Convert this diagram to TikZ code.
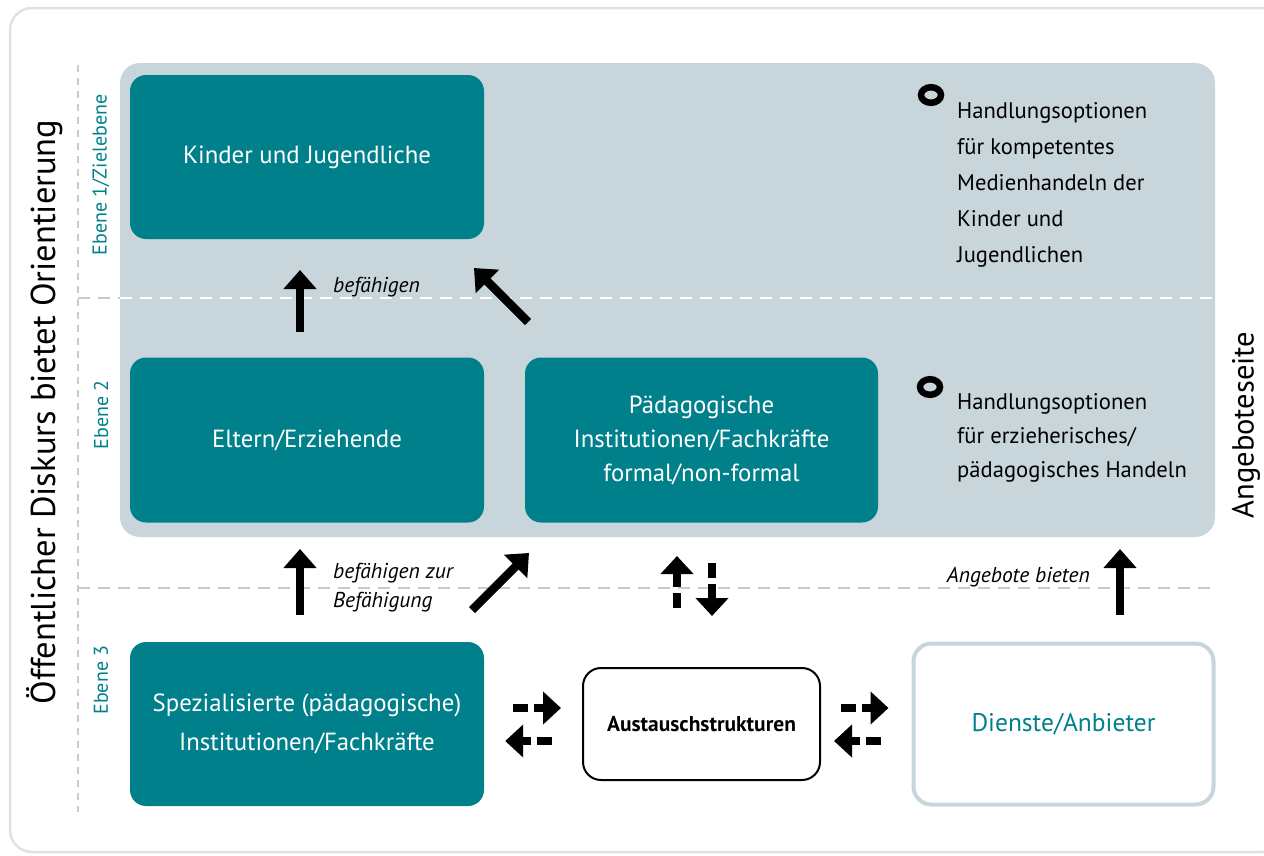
\documentclass[tikz,border=0pt]{standalone}
\usepackage{fontspec}
\setmainfont{PT Sans}
\usetikzlibrary{arrows.meta}
\definecolor{teal1}{HTML}{00808A}
\definecolor{panel}{HTML}{C8D5DB}
\definecolor{outer}{HTML}{DCE3E6}
\definecolor{dgrey}{HTML}{C4CCD0}
\tikzset{
  tbox/.style={draw=none, fill=teal1, rounded corners=16pt, text=white, align=center, font=\fontsize{24.8}{34}\selectfont},
  bigarrow/.style={line width=8.5pt, -{Triangle[width=32pt,length=19pt]}, black},
  dasharrow/.style={line width=8.5pt, -{Triangle[width=32pt,length=18pt]}, black, dash pattern=on 15pt off 6pt},
  lbl/.style={font=\fontsize{21.5}{29}\selectfont\itshape, inner sep=0pt},
  side/.style={font=\fontsize{22.6}{36}\selectfont, align=left, anchor=north west, inner sep=0pt},
  ebene/.style={rotate=90, text=teal1, font=\fontsize{20}{22}\selectfont, inner sep=0pt},
  ring/.style={draw=black, line width=6.5pt},
}
\begin{document}
\begin{tikzpicture}[x=1pt,y=-1pt]
\useasboundingbox (0,0) rectangle (1264,855);
% outer frame
\draw[outer, line width=2.5pt, rounded corners=22pt] (10,8) rectangle (1285,852);
% left dashed
\draw[dgrey, line width=1.5pt, dash pattern=on 7pt off 6pt] (78,65) -- (78,812);
% panel
\fill[panel, rounded corners=20pt] (120,63) rectangle (1215,537);
% horizontal dashed lines
\draw[dgrey, line width=1.5pt, dash pattern=on 12pt off 8pt] (78,298) -- (120,298);
\draw[white, line width=2pt, dash pattern=on 12pt off 8pt] (120,298) -- (1215,298);
\draw[dgrey, line width=1.5pt, dash pattern=on 12pt off 8pt] (78,588) -- (1215,588);
% titles
\node[rotate=90, font=\fontsize{34.5}{36}\selectfont, inner sep=0pt] (title) at (45,412) {Öffentlicher Diskurs bietet Orientierung};
\node[rotate=90, font=\fontsize{30.5}{32}\selectfont, inner sep=0pt] (angebot) at (1246,425) {Angeboteseite};
\node[ebene] (e1) at (101,175) {Ebene 1/Zielebene};
\node[ebene] (e2) at (101,415) {Ebene 2};
\node[ebene] (e3) at (101,680) {Ebene 3};
% boxes
\node[tbox, minimum width=354pt, minimum height=164pt] (kinder) at (307,157) {Kinder und Jugendliche};
\node[tbox, minimum width=354pt, minimum height=165pt] (eltern) at (307,440) {Eltern/Erziehende};
\node[tbox, minimum width=353pt, minimum height=165pt] (paed) at (701.5,440) {Pädagogische\\Institutionen/Fachkräfte\\formal/non-formal};
\node[tbox, minimum width=354pt, minimum height=164pt, font=\fontsize{24.8}{39}\selectfont] (spez) at (307,724) {Spezialisierte (pädagogische)\\Institutionen/Fachkräfte};
\node[draw=black, line width=2pt, fill=white, rounded corners=18pt, minimum width=237pt, minimum height=112pt, font=\fontsize{21.5}{24}\selectfont\bfseries] (aus) at (701.5,724) {Austauschstrukturen};
\node[draw=panel, line width=4pt, fill=white, rounded corners=18pt, minimum width=300pt, minimum height=161pt, text=teal1, font=\fontsize{25.5}{28}\selectfont] (dienste) at (1063.5,724) {Dienste/Anbieter};
% right side texts
\coordinate (r1) at (931,95);
\draw[ring] (r1) ellipse [x radius=10pt, y radius=7.8pt];
\node[side] (h1) at (957,102) {Handlungsoptionen\\für kompetentes\\Medienhandeln der\\Kinder und\\Jugendlichen};
\coordinate (r2) at (930,387);
\draw[ring] (r2) ellipse [x radius=10pt, y radius=7.8pt];
\node[side, font=\fontsize{22.6}{34}\selectfont] (h2) at (957,393) {Handlungsoptionen\\für erzieherisches/\\pädagogisches Handeln};
% arrows level 2 -> 1
\coordinate (a1s) at (300,332); \coordinate (a1e) at (300,270);
\draw[bigarrow] (a1s) -- (a1e);
\node[lbl, anchor=west] (bef) at (333,287) {befähigen};
\coordinate (a2s) at (528,322); \coordinate (a2e) at (474,268);
\draw[bigarrow] (a2s) -- (a2e);
% arrows level 3 -> 2
\coordinate (a3s) at (300,615); \coordinate (a3e) at (300,549);
\draw[bigarrow] (a3s) -- (a3e);
\node[lbl, anchor=north west, align=left] (bef2) at (333,563) {befähigen zur\\Befähigung};
\coordinate (a4s) at (472,610); \coordinate (a4e) at (529,553);
\draw[bigarrow] (a4s) -- (a4e);
\coordinate (a5s) at (677,608); \coordinate (a5e) at (677,556);
\draw[dasharrow] (a5s) -- (a5e);
\coordinate (a6s) at (712,563); \coordinate (a6e) at (712,616);
\draw[dasharrow] (a6s) -- (a6e);
\node[lbl, anchor=east] (angb) at (1090,577) {Angebote bieten};
\coordinate (a7s) at (1120,615); \coordinate (a7e) at (1120,549);
\draw[bigarrow] (a7s) -- (a7e);
% horizontal exchanges
\draw[dasharrow] ([xshift=29pt,yshift=16pt]spez.east) -- ([xshift=-21pt,yshift=16pt]aus.west);
\draw[dasharrow] ([xshift=-30pt,yshift=-17pt]aus.west) -- ([xshift=21pt,yshift=-17pt]spez.east);
\draw[dasharrow] ([xshift=20pt,yshift=16pt]aus.east) -- ([xshift=-23pt,yshift=16pt]dienste.west);
\draw[dasharrow] ([xshift=-31pt,yshift=-17pt]dienste.west) -- ([xshift=13pt,yshift=-17pt]aus.east);
\end{tikzpicture}
\end{document}
